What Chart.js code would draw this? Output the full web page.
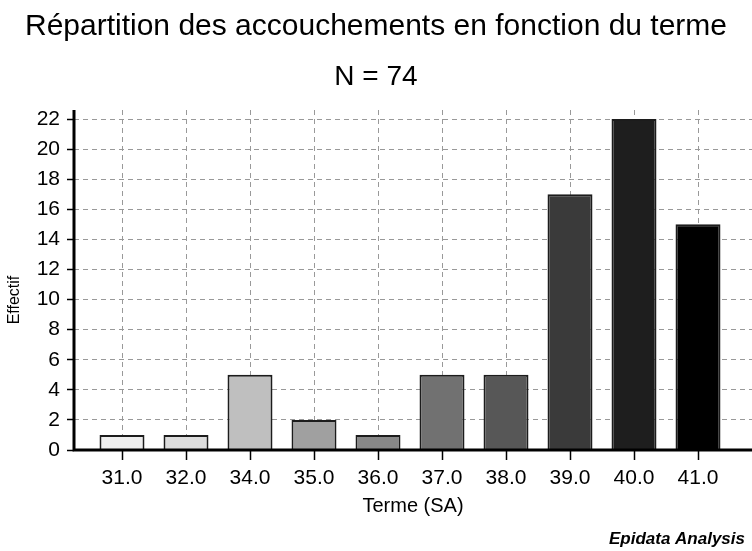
<!DOCTYPE html>
<html>
<head>
<meta charset="utf-8">
<script src="https://cdn.jsdelivr.net/npm/chart.js@4/dist/chart.umd.min.js"></script>
<style>
  html, body { margin: 0; padding: 0; background: #ffffff; }
  #wrap { width: 752px; height: 551px; }
</style>
</head>
<body>
<div id="wrap"><canvas id="c" width="752" height="551"></canvas></div>
<script>
const titleText = "Répartition des accouchements en fonction du terme";
const subtitleText = "N = 74";
const xTitle = "Terme (SA)";
const yTitle = "Effectif";
const footerText = "Epidata Analysis";

const categories = ["31.0", "32.0", "34.0", "35.0", "36.0", "37.0", "38.0", "39.0", "40.0", "41.0"];
const counts = [1, 1, 5, 2, 1, 5, 5, 17, 22, 15];
const barColors = ["#eeeeee", "#dcdcdc", "#bfbfbf", "#a0a0a0", "#888888", "#717171", "#575757", "#3a3a3a", "#1e1e1e", "#000000"];
const yTickStep = 2;

const FONT = "'Liberation Sans', Arial, sans-serif";

const axisLines = {
  id: 'axisLines',
  afterDatasetsDraw(chart) {
    const ctx = chart.ctx;
    const a = chart.chartArea;
    ctx.save();
    ctx.strokeStyle = '#000';
    ctx.lineWidth = 3;
    ctx.setLineDash([]);
    ctx.beginPath();
    ctx.moveTo(a.left, a.top);
    ctx.lineTo(a.left, a.bottom + 1.5);
    ctx.moveTo(a.left - 1.5, a.bottom);
    ctx.lineTo(a.right, a.bottom);
    ctx.stroke();
    ctx.restore();
  },
  afterDraw(chart) {
    const ctx = chart.ctx;
    ctx.save();
    ctx.fillStyle = '#000';
    ctx.font = "italic bold 17px " + FONT;
    ctx.textAlign = 'right';
    ctx.textBaseline = 'middle';
    ctx.fillText(footerText, 745, 539);
    ctx.restore();

    ctx.save();
    ctx.fillStyle = '#000';
    ctx.font = "16px " + FONT;
    ctx.textAlign = 'center';
    ctx.textBaseline = 'middle';
    ctx.translate(15, 300);
    ctx.rotate(-Math.PI / 2);
    ctx.fillText(yTitle, 0, 0);
    ctx.restore();
  }
};

const data = {
  datasets: [{
    data: counts.map((v, i) => ({ x: i, y: v })),
    backgroundColor: barColors,
    borderColor: '#1c1c1c',
    borderWidth: 2,
    borderSkipped: 'bottom',
    categoryPercentage: 1,
    barPercentage: 0.703
  }]
};

new Chart(document.getElementById('c'), {
  type: 'bar',
  data: data,
  plugins: [axisLines],
  options: {
    responsive: false,
    animation: false,
    devicePixelRatio: 1,
    layout: { padding: 0 },
    plugins: {
      legend: { display: false },
      tooltip: { enabled: false },
      title: {
        display: true,
        text: titleText,
        color: '#000',
        font: { family: FONT, size: 30, weight: 'normal' },
        padding: { top: 9, bottom: 0 }
      },
      subtitle: {
        display: true,
        text: subtitleText,
        color: '#000',
        font: { family: FONT, size: 28, weight: 'normal' },
        padding: { top: 15, bottom: 16.4 }
      }
    },
    scales: {
      x: {
        type: 'linear',
        offset: false,
        min: -0.75,
        max: 9.84375,
        afterFit(scale) { scale.height = 101; },
        ticks: {
          stepSize: 1,
          includeBounds: false,
          autoSkip: false,
          maxRotation: 0,
          color: '#000',
          font: { family: FONT, size: 21 },
          padding: 6,
          callback: (v) => categories[v] !== undefined ? categories[v] : ''
        },
        grid: {
          offset: false,
          color: '#999',
          lineWidth: 1,
          drawTicks: true,
          tickLength: 10,
          tickColor: '#000',
          tickWidth: 1.5,
          tickBorderDash: []
        },
        border: { display: false, dash: [5, 4] },
        title: {
          display: true,
          text: xTitle,
          color: '#000',
          font: { family: FONT, size: 20 },
          padding: { top: 0, bottom: 33 }
        }
      },
      y: {
        min: 0,
        max: 22.6,
        afterFit(scale) { scale.width = 74; },
        ticks: {
          stepSize: yTickStep,
          includeBounds: false,
          color: '#000',
          font: { family: FONT, size: 21 },
          padding: 7
        },
        grid: {
          color: '#999',
          lineWidth: 1,
          drawTicks: true,
          tickLength: 7,
          tickColor: '#000',
          tickWidth: 1.5,
          tickBorderDash: []
        },
        border: { display: false, dash: [5, 4] },
        title: { display: false }
      }
    }
  }
});
</script>
</body>
</html>
